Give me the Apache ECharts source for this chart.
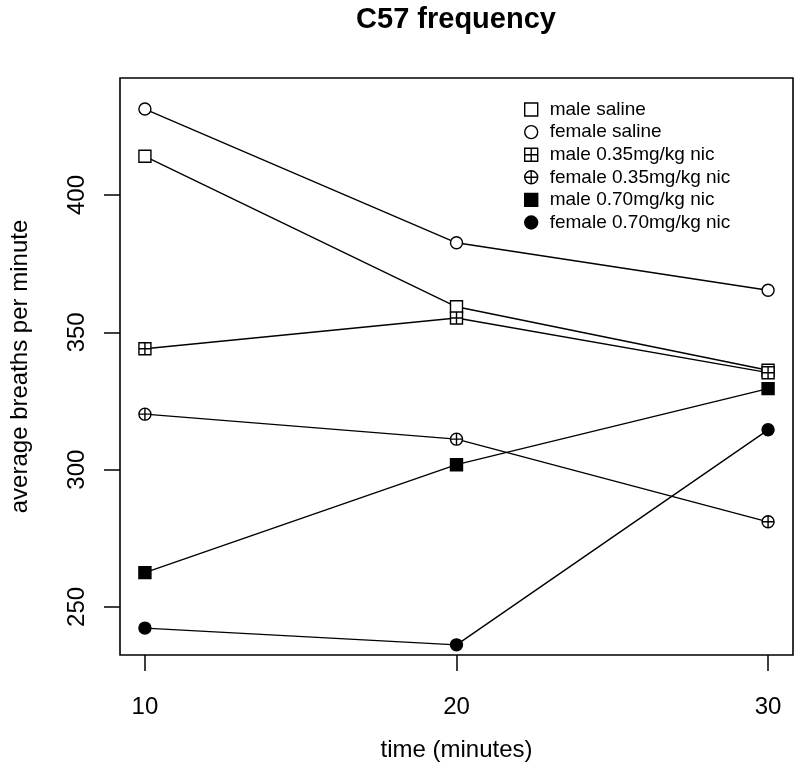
<!DOCTYPE html>
<html>
<head>
<meta charset="utf-8">
<script src="https://cdn.jsdelivr.net/npm/echarts@6/dist/echarts.min.js"></script>
<style>html,body{margin:0;padding:0;background:#fff}#c{width:800px;height:778px}</style>
</head>
<body>
<div id="c"></div>
<script>
const times = [10, 20, 30];
const xTicks = [10, 20, 30];
const yTicks = [250, 300, 350, 400];
const seriesNames = ["male saline", "female saline", "male 0.35mg/kg nic", "female 0.35mg/kg nic", "male 0.70mg/kg nic", "female 0.70mg/kg nic"];
const maleSaline = [414.1, 359.3, 336.2];
const femaleSaline = [431.3, 382.6, 365.3];
const male035 = [344.0, 355.2, 335.3];
const female035 = [320.2, 311.1, 281.0];
const male070 = [262.5, 301.8, 329.5];
const female070 = [242.3, 236.2, 314.5];

const FONT = 'Liberation Sans, Arial, Helvetica, sans-serif';
const sqPlus = 'path://M0,0 L10,0 L10,10 L0,10 Z M5,0 L5,10 M0,5 L10,5';
const cirPlus = 'path://M10,5 A5,5 0 1 1 0,5 A5,5 0 1 1 10,5 Z M5,0 L5,10 M0,5 L10,5';
const symbols = ['rect', 'circle', sqPlus, cirPlus, 'rect', 'circle'];
const fills = ['#fff', '#fff', '#fff', '#fff', '#000', '#000'];
const values = [maleSaline, femaleSaline, male035, female035, male070, female070];

const chart = echarts.init(document.getElementById('c'), null, {renderer: 'canvas'});
const series = seriesNames.map((n, i) => ({
  name: n,
  type: 'line',
  data: times.map((t, j) => [t, values[i][j]]),
  symbol: symbols[i],
  symbolSize: 12,
  showAllSymbol: true,
  lineStyle: {color: '#000', width: 1.4},
  itemStyle: {color: fills[i], borderColor: '#000', borderWidth: 1.4},
  emphasis: {disabled: true},
  animation: false,
  z: 2 + i
}));

chart.setOption({
  animation: false,
  backgroundColor: '#fff',
  title: {
    text: 'C57 frequency',
    left: 456, top: 5, padding: 0,
    textAlign: 'center',
    textStyle: {fontFamily: FONT, fontWeight: 'bold', fontSize: 29, color: '#000'}
  },
  grid: {left: 119, right: 7, top: 78, bottom: 123, show: true, borderColor: '#000', borderWidth: 1.6, backgroundColor: 'transparent'},
  legend: {
    orient: 'vertical',
    left: 519, top: 95,
    itemWidth: 13, itemHeight: 13, itemGap: 3.6,
    data: seriesNames.map((n, i) => ({name: n, icon: symbols[i]})),
    textStyle: {fontFamily: FONT, fontSize: 19, color: '#000', lineHeight: 19, padding: [0, 0, 0, 7]},
    itemStyle: {borderWidth: 1.4},
    selectedMode: false
  },
  xAxis: {
    type: 'value', min: 9.2, max: 30.8,
    name: 'time (minutes)', nameLocation: 'middle', nameGap: 83,
    nameTextStyle: {fontFamily: FONT, fontSize: 24, color: '#000'},
    axisLine: {show: false},
    axisTick: {show: true, length: 16, customValues: xTicks, lineStyle: {color: '#000', width: 1.5}},
    axisLabel: {customValues: xTicks, margin: 40, fontFamily: FONT, fontSize: 24, color: '#000'},
    splitLine: {show: false}
  },
  yAxis: {
    type: 'value', min: 232.5, max: 442.6,
    name: 'average breaths per minute', nameLocation: 'middle', nameGap: 88,
    nameTextStyle: {fontFamily: FONT, fontSize: 24, color: '#000'},
    axisLine: {show: false},
    axisTick: {show: true, length: 16, customValues: yTicks, lineStyle: {color: '#000', width: 1.5}},
    axisLabel: {customValues: yTicks, rotate: 90, margin: 31, fontFamily: FONT, fontSize: 24, color: '#000'},
    splitLine: {show: false}
  },
  series: series
});
</script>
</body>
</html>
